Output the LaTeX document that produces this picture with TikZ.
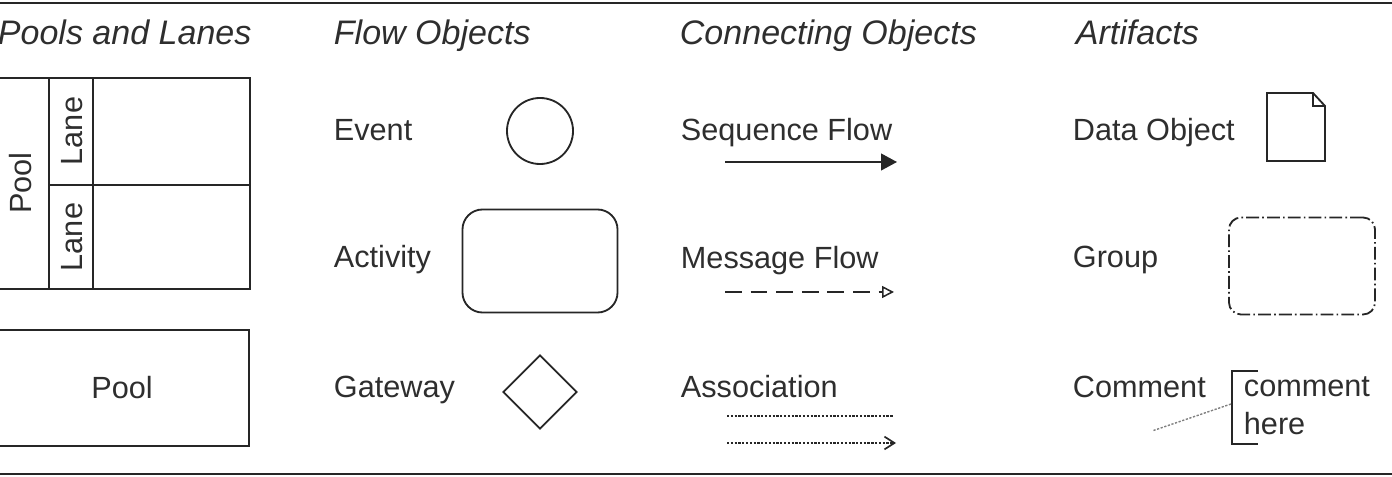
\documentclass[tikz,border=0pt]{standalone}
\usepackage{fontspec}
\setmainfont{Liberation Sans}
\usepackage{xcolor}
\usepackage{tikz}
\usetikzlibrary{arrows.meta,shapes.geometric,positioning}
\definecolor{ink}{HTML}{262626}
\definecolor{txt}{HTML}{2E2E2E}
\tikzset{
  heading/.style={anchor=base west, inner sep=0pt, text=txt, font=\fontsize{24.2}{28}\selectfont\itshape},
  lbl/.style={anchor=base west, inner sep=0pt, text=txt, font=\fontsize{21.8}{26}\selectfont},
  rule/.style={line width=2pt},
  thin dots/.style={line width=1pt, dash pattern=on 1.6pt off 1.1pt},
}

\begin{document}
\begin{tikzpicture}[x=0.025cm, y=-0.025cm, draw=ink, line width=1.3pt]
      \useasboundingbox (0,0) rectangle (1392,477);
      \draw[rule] (0,3) -- (1392,3);
      \draw[rule] (0,474) -- (1392,474);

      \node[heading] (hpools) at (-3,45) {Pools and Lanes};
      \node[heading] (hflow) at (333,45) {Flow Objects};
      \node[heading] (hconn) at (679,45) {Connecting Objects};
      \node[heading] (hart) at (1075,45) {Artifacts};

      % pools and lanes
      \draw (-5,78) rectangle (250,289);
      \draw (49,78) -- (49,289);
      \draw (93,78) -- (93,289);
      \draw (49,185) -- (250,185);
      \node[lbl, rotate=90, anchor=base] (poolv) at (31,183) {Pool};
      \node[lbl, rotate=90, anchor=base] (laneA) at (82,131) {Lane};
      \node[lbl, rotate=90, anchor=base] (laneB) at (82,237) {Lane};
      \node[draw, minimum width=6.35cm, minimum height=2.9cm, text=txt,
            font=\fontsize{21.8}{26}\selectfont] (pool) at (122,388) {Pool};

      % flow objects
      \node[lbl] (levent) at (333,141) {Event};
      \node[lbl] (lactivity) at (333,268) {Activity};
      \node[lbl] (lgateway) at (333,398) {Gateway};
      \node[draw, circle, minimum size=1.65cm, inner sep=0pt] (event) at (540,131) {};
      \node[draw, rectangle, rounded corners=0.5cm, minimum width=3.875cm,
            minimum height=2.575cm] (activity) at (540,261) {};
      \node[draw, diamond, minimum size=1.85cm, inner sep=0pt] (gateway) at (540,392) {};

      % connecting objects
      \node[lbl] (lseq) at (680,141) {Sequence Flow};
      \node[lbl] (lmsg) at (680,269) {Message Flow};
      \node[lbl] (lassoc) at (680,398) {Association};
      \coordinate (seqA) at (725,162);
      \coordinate (seqB) at (897,162);
      \coordinate (msgA) at (725,292);
      \coordinate (msgB) at (894,292);
      \coordinate (asA) at (727,416);
      \coordinate (asB) at (893,416);
      \coordinate (asC) at (727,443);
      \coordinate (asD) at (896,443);
      \draw[-{Triangle[length=0.4cm,width=0.42cm]}] (seqA) -- (seqB);
      \draw[dash pattern=on 0.42cm off 0.22cm,
            -{Triangle[open,length=0.3cm,width=0.3cm,line width=1.1pt]}] (msgA) -- (msgB);
      \draw[thin dots] (asA) -- (asB);
      \draw[thin dots, -{Straight Barb[length=0.25cm,width=0.32cm,line width=1.2pt]}] (asC) -- (asD);

      % artifacts
      \node[lbl] (ldata) at (1072,141) {Data Object};
      \node[lbl] (lgroup) at (1072,268) {Group};
      \node[lbl] (lcomment) at (1072,398) {Comment};
      \draw (1267,93) -- (1313,93) -- (1325,106) -- (1325,161) -- (1267,161) -- cycle;
      \draw (1313,93) -- (1313,106) -- (1325,106);
      \node[draw, rectangle, rounded corners=0.3cm, minimum width=3.65cm, minimum height=2.425cm,
            dash pattern=on 0.32cm off 0.08cm on 0.04cm off 0.08cm] (group) at (1302,266) {};
      \node[lbl] (cmtA) at (1243,397) {comment};
      \node[lbl] (cmtB) at (1243,435) {here};
      \draw (1258,371) -- (1232,371) -- (1232,444) -- (1258,444);
      \coordinate (cmtEnd) at (1152,431);
      \coordinate (cmtStart) at (1231,404);
      \draw[thin dots, draw=gray] (cmtStart) -- (cmtEnd);
\end{tikzpicture}
\end{document}
